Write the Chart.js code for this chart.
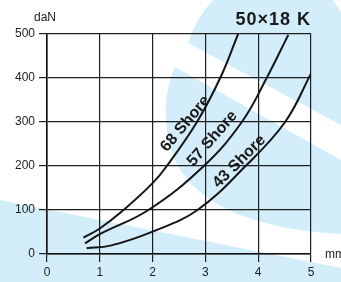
<!DOCTYPE html>
<html>
<head>
<meta charset="utf-8">
<script src="https://cdn.jsdelivr.net/npm/chart.js@4.4.1/dist/chart.umd.min.js"></script>
<style>
  html, body { margin: 0; padding: 0; background: #fff; }
  #wrap { width: 341px; height: 282px; position: relative; }
</style>
</head>
<body>
<div id="wrap"><canvas id="springChart"></canvas></div>
<script>
// deflection (mm) vs load (daN)
const x68 = [0.69, 1.0, 1.45, 2.0, 2.27, 2.84, 3.28, 3.62];
const y68 = [37, 58, 100, 161, 200, 300, 400, 500];
const x57 = [0.72, 1.0, 1.92, 2.97, 3.69, 4.16, 4.57];
const y57 = [24, 45, 100, 200, 300, 400, 498];
const x43 = [0.75, 1.2, 2.0, 2.85, 3.76, 4.51, 5.0];
const y43 = [13, 19, 51, 100, 200, 300, 410];

const xTicks = [0, 1, 2, 3, 4, 5];
const yTicks = [0, 100, 200, 300, 400, 500];

const curveLabels = ["68 Shore", "57 Shore", "43 Shore"];

const toPoints = (xs, ys) => xs.map((x, i) => ({ x: x, y: ys[i] }));

// light blue watermark behind the plot
const watermark = {
  id: "watermark",
  beforeDraw(chart) {
    const ctx = chart.ctx;
    ctx.save();
    ctx.fillStyle = "#fff";
    ctx.fillRect(0, 0, chart.width, chart.height);
    ctx.fillStyle = "#d3eefa";
    // top wedge
    ctx.beginPath();
    ctx.moveTo(188, 43);
    ctx.quadraticCurveTo(196, 18, 213, 0);
    ctx.lineTo(333, 0);
    ctx.lineTo(341, 12);
    ctx.lineTo(341, 125);
    ctx.closePath();
    ctx.fill();
    // big arc
    ctx.beginPath();
    ctx.moveTo(175, 67);
    ctx.lineTo(341, 160);
    ctx.lineTo(341, 234);
    ctx.bezierCurveTo(260, 230, 198, 207, 176, 162);
    ctx.bezierCurveTo(161, 130, 164, 90, 175, 67);
    ctx.closePath();
    ctx.fill();
    // bottom band
    ctx.beginPath();
    ctx.moveTo(0, 200);
    ctx.lineTo(341, 268);
    ctx.lineTo(341, 282);
    ctx.lineTo(0, 282);
    ctx.closePath();
    ctx.fill();
    ctx.restore();
  }
};

// titles and rotated curve labels
const annotations = {
  id: "annotations",
  afterDatasetsDraw(chart) {
    const ctx = chart.ctx;
    const xs = chart.scales.x, ys = chart.scales.y;
    ctx.save();
    ctx.fillStyle = "#1a1a1a";
    ctx.font = "12px 'Liberation Sans', Arial, sans-serif";
    ctx.textBaseline = "middle";
    ctx.textAlign = "left";
    ctx.fillText("daN", 34, 18);
    ctx.fillText("mm", 325, 255);

    ctx.font = "bold 18px 'Liberation Sans', Arial, sans-serif";
    ctx.textAlign = "right";
    ctx.textBaseline = "alphabetic";
    ctx.letterSpacing = "1px";
    ctx.fillText("50×18 K", 311, 25);
    ctx.letterSpacing = "0px";

    const spots = [
      { x: 2.62, y: 296, a: -50 },
      { x: 3.13, y: 262, a: -49 },
      { x: 3.64, y: 210, a: -45 }
    ];
    ctx.font = "bold 16px 'Liberation Sans', Arial, sans-serif";
    ctx.textAlign = "center";
    ctx.textBaseline = "middle";
    spots.forEach((s, i) => {
      ctx.save();
      ctx.translate(xs.getPixelForValue(s.x), ys.getPixelForValue(s.y));
      ctx.rotate(s.a * Math.PI / 180);
      ctx.fillText(curveLabels[i], 0, 0);
      ctx.restore();
    });
    ctx.restore();
  }
};

const lineStyle = {
  showLine: true,
  borderColor: "#141414",
  borderWidth: 2,
  pointRadius: 0,
  tension: 0.4,
  fill: false
};

new Chart(document.getElementById("springChart"), {
  type: "scatter",
  data: {
    datasets: [
      Object.assign({ label: curveLabels[0], data: toPoints(x68, y68) }, lineStyle),
      Object.assign({ label: curveLabels[1], data: toPoints(x57, y57) }, lineStyle),
      Object.assign({ label: curveLabels[2], data: toPoints(x43, y43) }, lineStyle)
    ]
  },
  options: {
    responsive: true,
    maintainAspectRatio: false,
    animation: false,
    layout: { padding: { left: 0, top: 34, right: 30, bottom: 0 } },
    plugins: { legend: { display: false }, tooltip: { enabled: false } },
    scales: {
      x: {
        type: "linear",
        min: xTicks[0],
        max: xTicks[xTicks.length - 1],
        afterBuildTicks: (s) => { s.ticks = xTicks.map(v => ({ value: v })); },
        afterFit: (s) => { s.height = 28; },
        ticks: { color: "#222", font: { size: 12, family: "'Liberation Sans', Arial" }, padding: 3, maxRotation: 0 },
        grid: { color: "#1e1e1e", lineWidth: 1.2, tickLength: 8 },
        border: { color: "#111", width: 1.6 }
      },
      y: {
        min: yTicks[0],
        max: yTicks[yTicks.length - 1],
        afterBuildTicks: (s) => { s.ticks = yTicks.map(v => ({ value: v })); },
        afterFit: (s) => { s.width = 47; },
        ticks: { color: "#222", font: { size: 12, family: "'Liberation Sans', Arial" }, padding: 4 },
        grid: { color: "#1e1e1e", lineWidth: 1.2, tickLength: 8 },
        border: { color: "#111", width: 1.6 }
      }
    }
  },
  plugins: [watermark, annotations]
});
</script>
</body>
</html>
